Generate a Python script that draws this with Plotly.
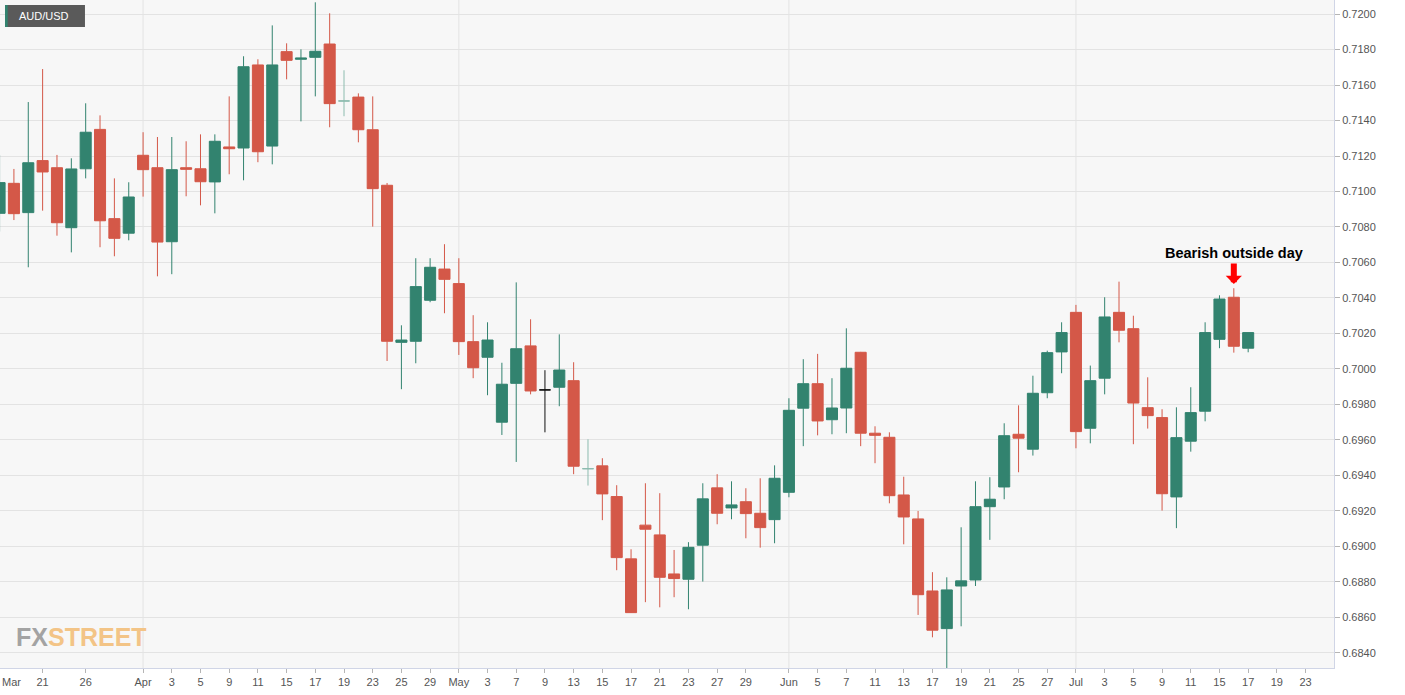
import pandas as pd
import plotly.graph_objects as go

# ---------------- data (AUD/USD daily) ----------------
dates = [d.strftime("%Y-%m-%d") for d in pd.bdate_range("2019-03-18", "2019-07-17")]

opens = [0.70877, 0.71046, 0.70881, 0.71174, 0.71134, 0.70796, 0.71128, 0.71350, 0.70847, 0.70765,
         0.71204, 0.71134, 0.70717, 0.71134, 0.71128, 0.71054, 0.71251, 0.71245, 0.71713, 0.71256,
         0.71788, 0.71745, 0.71756, 0.71831, 0.71510, 0.71532, 0.71348, 0.71035, 0.70150, 0.70156,
         0.70387, 0.70563, 0.70481, 0.70154, 0.70066, 0.69700, 0.69919, 0.70130, 0.69882, 0.69897,
         0.69934, 0.69438, 0.69454, 0.69281, 0.68930, 0.69120, 0.69065, 0.68845, 0.68815, 0.69007,
         0.69330, 0.69217, 0.69252, 0.69187, 0.69151, 0.69305, 0.69779, 0.69917, 0.69714, 0.69780,
         0.70094, 0.69638, 0.69615, 0.69290, 0.69155, 0.68749, 0.68537, 0.68777, 0.68811, 0.69224,
         0.69335, 0.69632, 0.69548, 0.69866, 0.70096, 0.70319, 0.69666, 0.69948, 0.70319, 0.70227,
         0.69782, 0.69726, 0.69279, 0.69593, 0.69762, 0.70167, 0.70404, 0.70117]
highs = [0.71206, 0.71127, 0.71504, 0.71690, 0.71206, 0.71187, 0.71497, 0.71429, 0.71074, 0.71052,
         0.71334, 0.71307, 0.71307, 0.71283, 0.71322, 0.71322, 0.71536, 0.71762, 0.71745, 0.71936,
         0.71835, 0.71801, 0.72066, 0.72004, 0.71683, 0.71553, 0.71536, 0.71048, 0.70246, 0.70624,
         0.70624, 0.70703, 0.70624, 0.70303, 0.70263, 0.70035, 0.70488, 0.70280, 0.69993, 0.70195,
         0.70038, 0.69604, 0.69497, 0.69345, 0.68984, 0.69356, 0.69300, 0.68980, 0.69024, 0.69356,
         0.69407, 0.69367, 0.69328, 0.69384, 0.69457, 0.69835, 0.70055, 0.70085, 0.69948, 0.70229,
         0.70096, 0.69677, 0.69643, 0.69393, 0.69200, 0.68855, 0.68826, 0.69108, 0.69367, 0.69390,
         0.69694, 0.69795, 0.69962, 0.70103, 0.70263, 0.70361, 0.70019, 0.70404, 0.70492, 0.70300,
         0.69953, 0.69773, 0.69784, 0.69897, 0.70263, 0.70415, 0.70455, 0.70205]
lows = [0.70774, 0.70839, 0.70573, 0.70892, 0.70751, 0.70657, 0.71074, 0.70686, 0.70635, 0.70725,
        0.70971, 0.70522, 0.70534, 0.70973, 0.70922, 0.70877, 0.71097, 0.71063, 0.71165, 0.71153,
        0.71632, 0.71395, 0.71536, 0.71362, 0.71424, 0.71277, 0.70802, 0.70045, 0.69886, 0.70032,
        0.70376, 0.70314, 0.70079, 0.69948, 0.69852, 0.69628, 0.69476, 0.69857, 0.69643, 0.69790,
        0.69407, 0.69343, 0.69148, 0.68866, 0.68625, 0.68686, 0.68657, 0.68714, 0.68646, 0.68802,
        0.69125, 0.69153, 0.69046, 0.68993, 0.69018, 0.69277, 0.69565, 0.69626, 0.69632, 0.69638,
        0.69565, 0.69469, 0.69243, 0.69012, 0.68614, 0.68488, 0.68314, 0.68550, 0.68777, 0.69037,
        0.69266, 0.69418, 0.69512, 0.69835, 0.69976, 0.69553, 0.69581, 0.69857, 0.70150, 0.69576,
        0.69664, 0.69202, 0.69103, 0.69534, 0.69705, 0.70117, 0.70092, 0.70094]
closes = [0.71050, 0.70875, 0.71162, 0.71110, 0.70824, 0.71127, 0.71334, 0.70835, 0.70736, 0.70969,
          0.71123, 0.70715, 0.71123, 0.71125, 0.71055, 0.71283, 0.71241, 0.71703, 0.71224, 0.71713,
          0.71739, 0.71752, 0.71790, 0.71495, 0.71510, 0.71348, 0.71016, 0.70156, 0.70163, 0.70464,
          0.70573, 0.70505, 0.70154, 0.70007, 0.70163, 0.69914, 0.70114, 0.69876, 0.69882, 0.69994,
          0.69452, 0.69438, 0.69296, 0.68937, 0.68627, 0.69097, 0.68826, 0.68819, 0.68995, 0.69268,
          0.69187, 0.69234, 0.69185, 0.69106, 0.69384, 0.69767, 0.69917, 0.69707, 0.69780, 0.70004,
          0.69638, 0.69626, 0.69286, 0.69166, 0.68728, 0.68528, 0.68755, 0.68806, 0.69224, 0.69266,
          0.69624, 0.69610, 0.69863, 0.70092, 0.70205, 0.69647, 0.69934, 0.70293, 0.70218, 0.69808,
          0.69737, 0.69297, 0.69613, 0.69754, 0.70205, 0.70394, 0.70128, 0.70205]

flat_light_days = ["2019-04-19", "2019-05-14"]   # unchanged sessions drawn pale
flat_dark_days = ["2019-05-09"]                  # unchanged session drawn black

tick_dates = ["2019-03-18", "2019-03-21", "2019-03-26", "2019-04-01", "2019-04-03", "2019-04-05",
              "2019-04-09", "2019-04-11", "2019-04-15", "2019-04-17", "2019-04-19", "2019-04-23",
              "2019-04-25", "2019-04-29", "2019-05-01", "2019-05-03", "2019-05-07", "2019-05-09",
              "2019-05-13", "2019-05-15", "2019-05-17", "2019-05-21", "2019-05-23", "2019-05-27",
              "2019-05-29", "2019-06-03", "2019-06-05", "2019-06-07", "2019-06-11", "2019-06-13",
              "2019-06-17", "2019-06-19", "2019-06-21", "2019-06-25", "2019-06-27", "2019-07-01",
              "2019-07-03", "2019-07-05", "2019-07-09", "2019-07-11", "2019-07-15", "2019-07-17",
              "2019-07-19", "2019-07-23"]
tick_text = ["", "21", "26", "Apr", "3", "5", "9", "11", "15", "17", "19", "23", "25", "29",
             "May", "3", "7", "9", "13", "15", "17", "21", "23", "27", "29", "Jun", "5", "7",
             "11", "13", "17", "19", "21", "25", "27", "Jul", "3", "5", "9", "11", "15", "17",
             "19", "23"]
month_starts = ["2019-04-01", "2019-05-01", "2019-06-03", "2019-07-01"]

# ---------------- trading-day axis ----------------
calendar = [d.strftime("%Y-%m-%d") for d in pd.bdate_range("2019-03-18", "2019-07-25")]
pos = {d: i for i, d in enumerate(calendar)}

GREEN = "#32836f"
RED = "#d45848"
PALE = "#8dbcaf"

def subset(days):
    idx = [i for i, d in enumerate(dates) if d in days]
    return dict(x=[pos[dates[i]] for i in idx], open=[opens[i] for i in idx],
                high=[highs[i] for i in idx], low=[lows[i] for i in idx],
                close=[closes[i] for i in idx])

main_days = [d for d in dates if d not in flat_light_days + flat_dark_days]

fig = go.Figure()
fig.add_trace(go.Candlestick(**subset(main_days), whiskerwidth=0,
                             increasing=dict(line=dict(color=GREEN, width=1), fillcolor=GREEN),
                             decreasing=dict(line=dict(color=RED, width=1), fillcolor=RED),
                             hoverinfo="skip"))
fig.add_trace(go.Candlestick(**subset(flat_light_days), whiskerwidth=0,
                             increasing=dict(line=dict(color=PALE, width=1), fillcolor=PALE),
                             decreasing=dict(line=dict(color=PALE, width=1), fillcolor=PALE),
                             hoverinfo="skip"))
fig.add_trace(go.Candlestick(**subset(flat_dark_days), whiskerwidth=0,
                             increasing=dict(line=dict(color="#111111", width=1), fillcolor="#777777"),
                             decreasing=dict(line=dict(color="#111111", width=1), fillcolor="#777777"),
                             hoverinfo="skip"))

PW, PH = 1334.5, 668.0  # plot-area size in px (for paper-coordinate decorations)

shapes = []
for d in month_starts:
    shapes.append(dict(type="line", xref="x", yref="paper", x0=pos[d], x1=pos[d], y0=0, y1=1,
                       line=dict(color="#e3e3e3", width=1), layer="below"))
# AUD/USD badge
shapes.append(dict(type="rect", xref="paper", yref="paper", x0=5 / PW, x1=85 / PW,
                   y0=1 - 27 / PH, y1=1 - 5 / PH, fillcolor="#5a5a5a", line=dict(width=0)))
shapes.append(dict(type="rect", xref="paper", yref="paper", x0=5 / PW, x1=7.7 / PW,
                   y0=1 - 27 / PH, y1=1 - 5 / PH, fillcolor=GREEN, line=dict(width=0)))

j = dates.index("2019-07-16")
annotations = [
    dict(xref="paper", yref="paper", x=17 / PW, y=1 - 16 / PH, xanchor="left", yanchor="middle",
         text="AUD/USD", showarrow=False,
         font=dict(family="Liberation Sans, Arial, sans-serif", size=11, color="white")),
    dict(xref="paper", yref="paper", x=0, y=0, xanchor="left", yanchor="top", yshift=-6,
         text="Mar", showarrow=False,
         font=dict(family="Liberation Sans, Arial, sans-serif", size=11, color="#555555")),
    dict(xref="paper", yref="paper", x=14 / PW, y=1 - 653 / PH, xanchor="left", yanchor="bottom",
         text="<b><span style='color:#a3a3a3'>FX</span><span style='color:#f3c486'>STREET</span></b>",
         showarrow=False,
         font=dict(family="Liberation Sans Narrow, Arial Narrow, sans-serif", size=25)),
    dict(x=pos[dates[j]], y=highs[j] + 0.00196, text="<b>Bearish outside day</b>", showarrow=False,
         xanchor="center", yanchor="middle",
         font=dict(family="Liberation Sans, Arial, sans-serif", size=14.5, color="black")),
    dict(x=pos[dates[j]], y=highs[j] + 0.00024, text="", showarrow=True, ax=0, ay=-22,
         arrowhead=1, arrowsize=0.45, arrowwidth=6, arrowcolor="#ff0000"),
]

axis_font = dict(family="Liberation Sans, Arial, sans-serif", size=11, color="#555555")
fig.update_layout(
    width=1405, height=695,
    margin=dict(l=0, r=71, t=0, b=27),
    paper_bgcolor="white", plot_bgcolor="#f7f7f7",
    showlegend=False, boxgap=0.23, boxgroupgap=0,
    shapes=shapes, annotations=annotations,
    xaxis=dict(range=[0.03, 92.98], tickmode="array", tickvals=[pos[d] for d in tick_dates],
               ticktext=tick_text, showgrid=False, zeroline=False,
               rangeslider=dict(visible=False), ticks="outside", ticklen=4, tickcolor="#b5b5b5",
               showline=True, linecolor="#d0d5e6", linewidth=1, mirror=True, tickfont=axis_font),
    yaxis=dict(side="right", range=[0.68315, 0.72079], tick0=0.68, dtick=0.002, tickformat=".4f",
               showgrid=True, gridcolor="#e3e3e3", zeroline=False, ticks="outside", ticklen=5,
               tickcolor="#b5b5b5", showline=True, linecolor="#d0d5e6", linewidth=1, mirror=True,
               tickfont=axis_font),
)

fig.write_html("out.html", config={"displayModeBar": False},
               post_script="document.body.style.margin='0';document.body.style.overflow='hidden';")
